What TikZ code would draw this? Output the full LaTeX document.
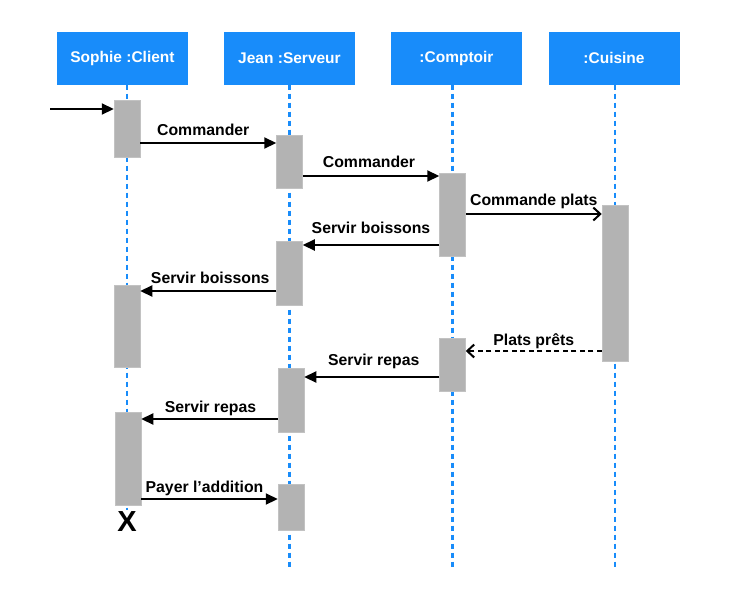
\documentclass[tikz,border=0pt]{standalone}
\usepackage{fontspec}
\setmainfont{Liberation Sans}
\usetikzlibrary{arrows.meta}
\definecolor{hdrblue}{RGB}{24,140,250}
\definecolor{bargray}{RGB}{179,179,179}
\begin{document}
\begin{tikzpicture}[x=1pt,y=1pt,
  hdr/.style={rectangle, fill=hdrblue, minimum width=131pt, minimum height=53pt, inner sep=0pt,
    text=white, font=\fontsize{15.5}{18}\selectfont\bfseries},
  life/.style={hdrblue, line width=2.4pt, dash pattern=on 5pt off 4pt},
  bar/.style={rectangle, fill=bargray, draw=bargray!80!white, line width=0.5pt, minimum width=26pt, inner sep=0pt},
  msg/.style={line width=2.2pt, -{Triangle[length=12pt,width=11pt]}},
  amsg/.style={line width=2.2pt, -{Straight Barb[length=7pt,width=13pt,line width=2pt]}},
  lbl/.style={anchor=base, inner sep=0pt, font=\fontsize{15.8}{18}\selectfont\bfseries}
]
\useasboundingbox (0,0) rectangle (740,-600);

% headers
\node[hdr] (h1) at (122.5,-58) {Sophie :Client};
\node[hdr] (h2) at (289.5,-58) {Jean :Serveur};
\node[hdr] (h3) at (456.5,-58) {:Comptoir};
\node[hdr] (h4) at (614,-58) {:Cuisine};

% lifeline ends
\coordinate (e1) at (127,-510);
\coordinate (e2) at (289.5,-568);
\coordinate (e3) at (452.5,-568);
\coordinate (e4) at (615,-568);
\draw[life] (h1.south -| e1) -- (e1);
\draw[life] (h2.south -| e2) -- (e2);
\draw[life] (h3.south -| e3) -- (e3);
\draw[life] (h4.south -| e4) -- (e4);

% activation bars
\node[bar, minimum height=57pt] (c1) at (127,-128.5) {};
\node[bar, minimum height=53pt] (s1) at (289.5,-161.5) {};
\node[bar, minimum height=83pt] (k1) at (452.5,-214.5) {};
\node[bar, minimum height=156pt] (q1) at (615,-283) {};
\node[bar, minimum height=64pt] (s2) at (289.5,-273) {};
\node[bar, minimum height=82pt] (c2) at (127,-326) {};
\node[bar, minimum height=53pt] (k2) at (452.5,-364.5) {};
\node[bar, minimum height=64pt] (s3) at (291,-400) {};
\node[bar, minimum height=93pt] (c3) at (128,-458.5) {};
\node[bar, minimum height=46pt] (s4) at (291,-507) {};

% destruction mark
\node[inner sep=0pt, font=\fontsize{29}{30}\selectfont\bfseries] (x) at (127,-522) {X};

% message heights
\coordinate (start) at (50,-109);
\coordinate (m1) at (0,-143);
\coordinate (m2) at (0,-176);
\coordinate (m3) at (0,-214);
\coordinate (m4) at (0,-245);
\coordinate (m5) at (0,-291);
\coordinate (m6) at (0,-351);
\coordinate (m7) at (0,-377);
\coordinate (m8) at (0,-419);
\coordinate (m9) at (0,-499);

% messages
\draw[msg] (start) -- (c1.west |- start);
\draw[msg] (c1.east |- m1) -- node[lbl, yshift=8pt, xshift=-5pt] {Commander} (s1.west |- m1);
\draw[msg] (s1.east |- m2) -- node[lbl, yshift=9pt, xshift=-2pt] {Commander} (k1.west |- m2);
\draw[amsg] (k1.east |- m3) -- node[lbl, yshift=9pt] {Commande plats} (q1.west |- m3);
\draw[msg] (k1.west |- m4) -- node[lbl, yshift=12pt] {Servir boissons} (s2.east |- m4);
\draw[msg] (s2.west |- m5) -- node[lbl, yshift=8pt, xshift=2pt] {Servir boissons} (c2.east |- m5);
\draw[amsg, dash pattern=on 5pt off 3.5pt] (q1.west |- m6) -- node[lbl, yshift=6pt] {Plats prêts} (k2.east |- m6);
\draw[msg] (k2.west |- m7) -- node[lbl, yshift=12pt, xshift=2pt] {Servir repas} (s3.east |- m7);
\draw[msg] (s3.west |- m8) -- node[lbl, yshift=7pt, xshift=1pt] {Servir repas} (c3.east |- m8);
\draw[msg] (c3.east |- m9) -- node[lbl, yshift=7pt, xshift=-5pt] {Payer l’addition} (s4.west |- m9);
\end{tikzpicture}
\end{document}
